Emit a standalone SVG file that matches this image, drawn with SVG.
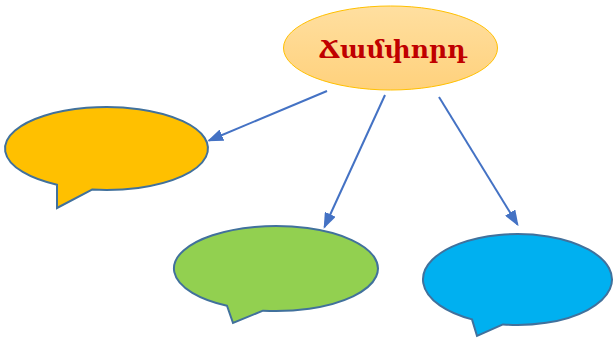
<svg xmlns="http://www.w3.org/2000/svg" width="615" height="339" viewBox="0 0 615 339">
<defs>
<linearGradient id="topGrad" x1="0" y1="0" x2="0" y2="1">
<stop offset="0" stop-color="#FFDFA0"/>
<stop offset="1" stop-color="#FFD17C"/>
</linearGradient>
<marker id="arrow" viewBox="0 0 8 6" refX="7" refY="3" markerWidth="8" markerHeight="6" orient="auto" markerUnits="strokeWidth">
<path d="M0,0 L8,3 L0,6 Z" fill="#4472C4"/>
</marker>
</defs>
<style>
.callout{stroke:#41719C;stroke-width:2;stroke-linejoin:miter}
.conn{stroke:#4472C4;stroke-width:2;fill:none;marker-end:url(#arrow)}
.title{font-family:"DejaVu Serif","Noto Serif",serif;font-size:25px;font-weight:bold;fill:#C00000;text-anchor:middle}
</style>
<g id="connectors">
<line class="conn" x1="327" y1="91" x2="209" y2="140.5"/>
<line class="conn" x1="385" y1="95" x2="324.5" y2="227"/>
<line class="conn" x1="439" y1="97" x2="517.5" y2="224.5"/>
</g>
<g id="node-root">
<ellipse cx="390.5" cy="48" rx="107" ry="42" fill="url(#topGrad)" stroke="#FFC000" stroke-width="1"/>
<text class="title" x="393" y="58">Ճամփորդ</text>
</g>
<g id="node-orange">
<path class="callout" fill="#FFC000" d="M92,189.57 L57,208 L57,184.73 A101.5,41.5 0 1 1 92,189.57 Z"/>
</g>
<g id="node-green">
<path class="callout" fill="#92D050" d="M263,310.65 L233,323 L227,305.78 A102,42.5 0 1 1 263,310.65 Z"/>
</g>
<g id="node-blue">
<path class="callout" fill="#00B0F0" d="M503,324.46 L477,336 L472,319.38 A94.5,45.5 0 1 1 503,324.46 Z"/>
</g>
</svg>
